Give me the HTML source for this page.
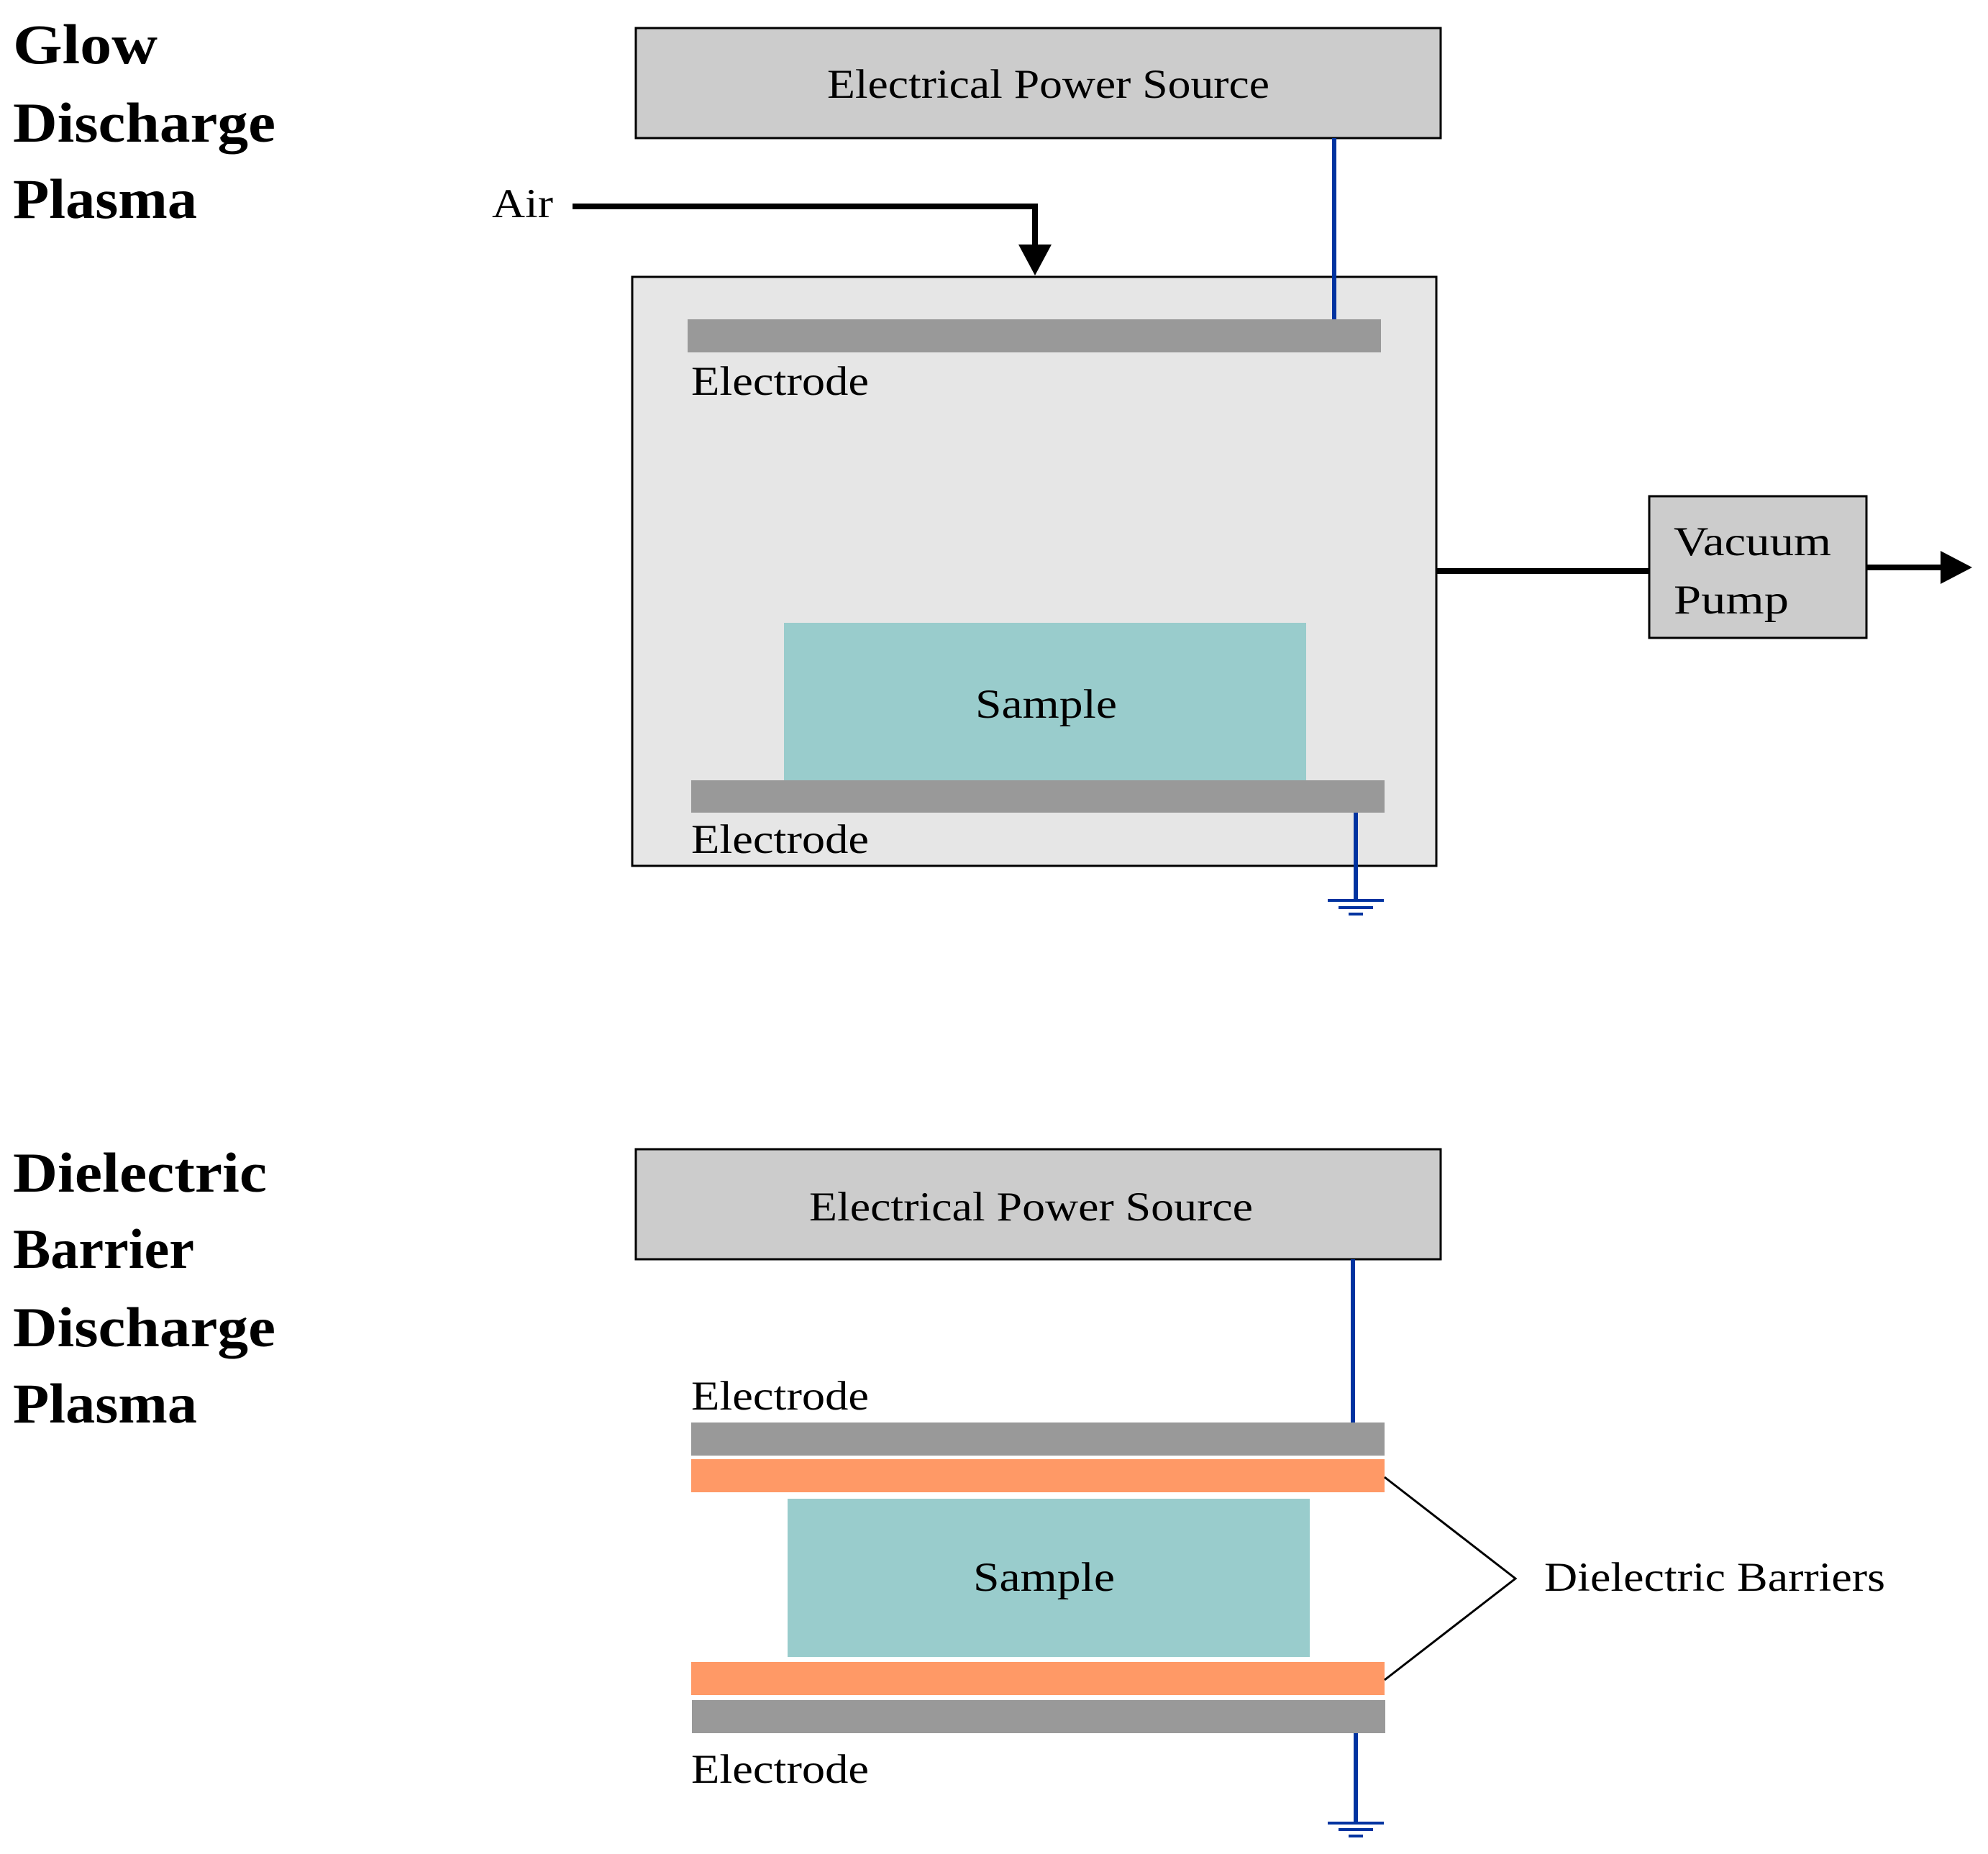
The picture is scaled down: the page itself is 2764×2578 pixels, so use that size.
<!DOCTYPE html>
<html><head><meta charset="utf-8"><style>html,body{margin:0;padding:0;background:#fff}svg{display:block}</style></head>
<body>
<svg width="2764" height="2578" viewBox="0 0 2764 2578" xmlns="http://www.w3.org/2000/svg" font-family="'Liberation Serif', serif">
<g font-weight="bold" font-size="78" fill="#000">
<text x="18" y="88" textLength="201" lengthAdjust="spacingAndGlyphs">Glow</text>
<text x="18" y="197" textLength="365" lengthAdjust="spacingAndGlyphs">Discharge</text>
<text x="18" y="303" textLength="256" lengthAdjust="spacingAndGlyphs">Plasma</text>
<text x="18" y="1657" textLength="353" lengthAdjust="spacingAndGlyphs">Dielectric</text>
<text x="18" y="1763" textLength="252" lengthAdjust="spacingAndGlyphs">Barrier</text>
<text x="18" y="1872" textLength="365" lengthAdjust="spacingAndGlyphs">Discharge</text>
<text x="18" y="1978" textLength="256" lengthAdjust="spacingAndGlyphs">Plasma</text>
</g>
<!-- top diagram -->
<rect x="884" y="39" width="1119" height="153" fill="#cccccc" stroke="#000" stroke-width="3"/>
<line x1="1855" y1="192" x2="1855" y2="444" stroke="#0033a0" stroke-width="6"/>
<rect x="879" y="385" width="1118" height="819" fill="#e6e6e6" stroke="#000" stroke-width="3"/>
<polyline points="796,287 1439,287 1439,345" fill="none" stroke="#000" stroke-width="8"/>
<polygon points="1416,340 1462,340 1439,383" fill="#000"/>
<line x1="1855" y1="192" x2="1855" y2="444" stroke="#0033a0" stroke-width="6"/>
<rect x="956" y="444" width="964" height="46" fill="#999"/>
<rect x="1090" y="866" width="726" height="222" fill="#99cccc"/>
<rect x="961" y="1085" width="964" height="45" fill="#999"/>
<line x1="1885" y1="1130" x2="1885" y2="1252" stroke="#0033a0" stroke-width="6"/>
<line x1="1846" y1="1252" x2="1924" y2="1252" stroke="#0033a0" stroke-width="4"/>
<line x1="1861" y1="1262" x2="1909" y2="1262" stroke="#0033a0" stroke-width="4"/>
<line x1="1875" y1="1271" x2="1895" y2="1271" stroke="#0033a0" stroke-width="4"/>
<line x1="1997" y1="794" x2="2293" y2="794" stroke="#000" stroke-width="8"/>
<rect x="2293" y="690" width="302" height="197" fill="#cccccc" stroke="#000" stroke-width="3"/>
<line x1="2595" y1="789" x2="2700" y2="789" stroke="#000" stroke-width="8"/>
<polygon points="2698,766 2742,789 2698,812" fill="#000"/>
<g font-size="57" fill="#000">
<text x="1150" y="136" textLength="615" lengthAdjust="spacingAndGlyphs">Electrical Power Source</text>
<text x="684" y="302" textLength="85" lengthAdjust="spacingAndGlyphs">Air</text>
<text x="961" y="549" textLength="247" lengthAdjust="spacingAndGlyphs">Electrode</text>
<text x="1356" y="998" textLength="197" lengthAdjust="spacingAndGlyphs">Sample</text>
<text x="961" y="1186" textLength="247" lengthAdjust="spacingAndGlyphs">Electrode</text>
<text x="2327" y="772" textLength="219" lengthAdjust="spacingAndGlyphs">Vacuum</text>
<text x="2327" y="853" textLength="160" lengthAdjust="spacingAndGlyphs">Pump</text>
</g>
<!-- bottom diagram -->
<rect x="884" y="1598" width="1119" height="153" fill="#cccccc" stroke="#000" stroke-width="3"/>
<line x1="1881" y1="1751" x2="1881" y2="1978" stroke="#0033a0" stroke-width="6"/>
<rect x="961" y="1978" width="964" height="46" fill="#999"/>
<rect x="961" y="2029" width="964" height="46" fill="#ff9966"/>
<rect x="1095" y="2084" width="726" height="220" fill="#99cccc"/>
<rect x="961" y="2311" width="964" height="46" fill="#ff9966"/>
<rect x="962" y="2364" width="964" height="46" fill="#999"/>
<line x1="1885" y1="2410" x2="1885" y2="2535" stroke="#0033a0" stroke-width="6"/>
<line x1="1846" y1="2535" x2="1924" y2="2535" stroke="#0033a0" stroke-width="4"/>
<line x1="1861" y1="2544" x2="1909" y2="2544" stroke="#0033a0" stroke-width="4"/>
<line x1="1875" y1="2553" x2="1895" y2="2553" stroke="#0033a0" stroke-width="4"/>
<polyline points="1925,2054 2107,2195 1925,2336" fill="none" stroke="#000" stroke-width="3"/>
<g font-size="57" fill="#000">
<text x="1125" y="1697" textLength="617" lengthAdjust="spacingAndGlyphs">Electrical Power Source</text>
<text x="961" y="1960" textLength="247" lengthAdjust="spacingAndGlyphs">Electrode</text>
<text x="1353" y="2212" textLength="197" lengthAdjust="spacingAndGlyphs">Sample</text>
<text x="961" y="2479" textLength="247" lengthAdjust="spacingAndGlyphs">Electrode</text>
<text x="2147" y="2212" textLength="474" lengthAdjust="spacingAndGlyphs">Dielectric Barriers</text>
</g>
</svg>
</body></html>
